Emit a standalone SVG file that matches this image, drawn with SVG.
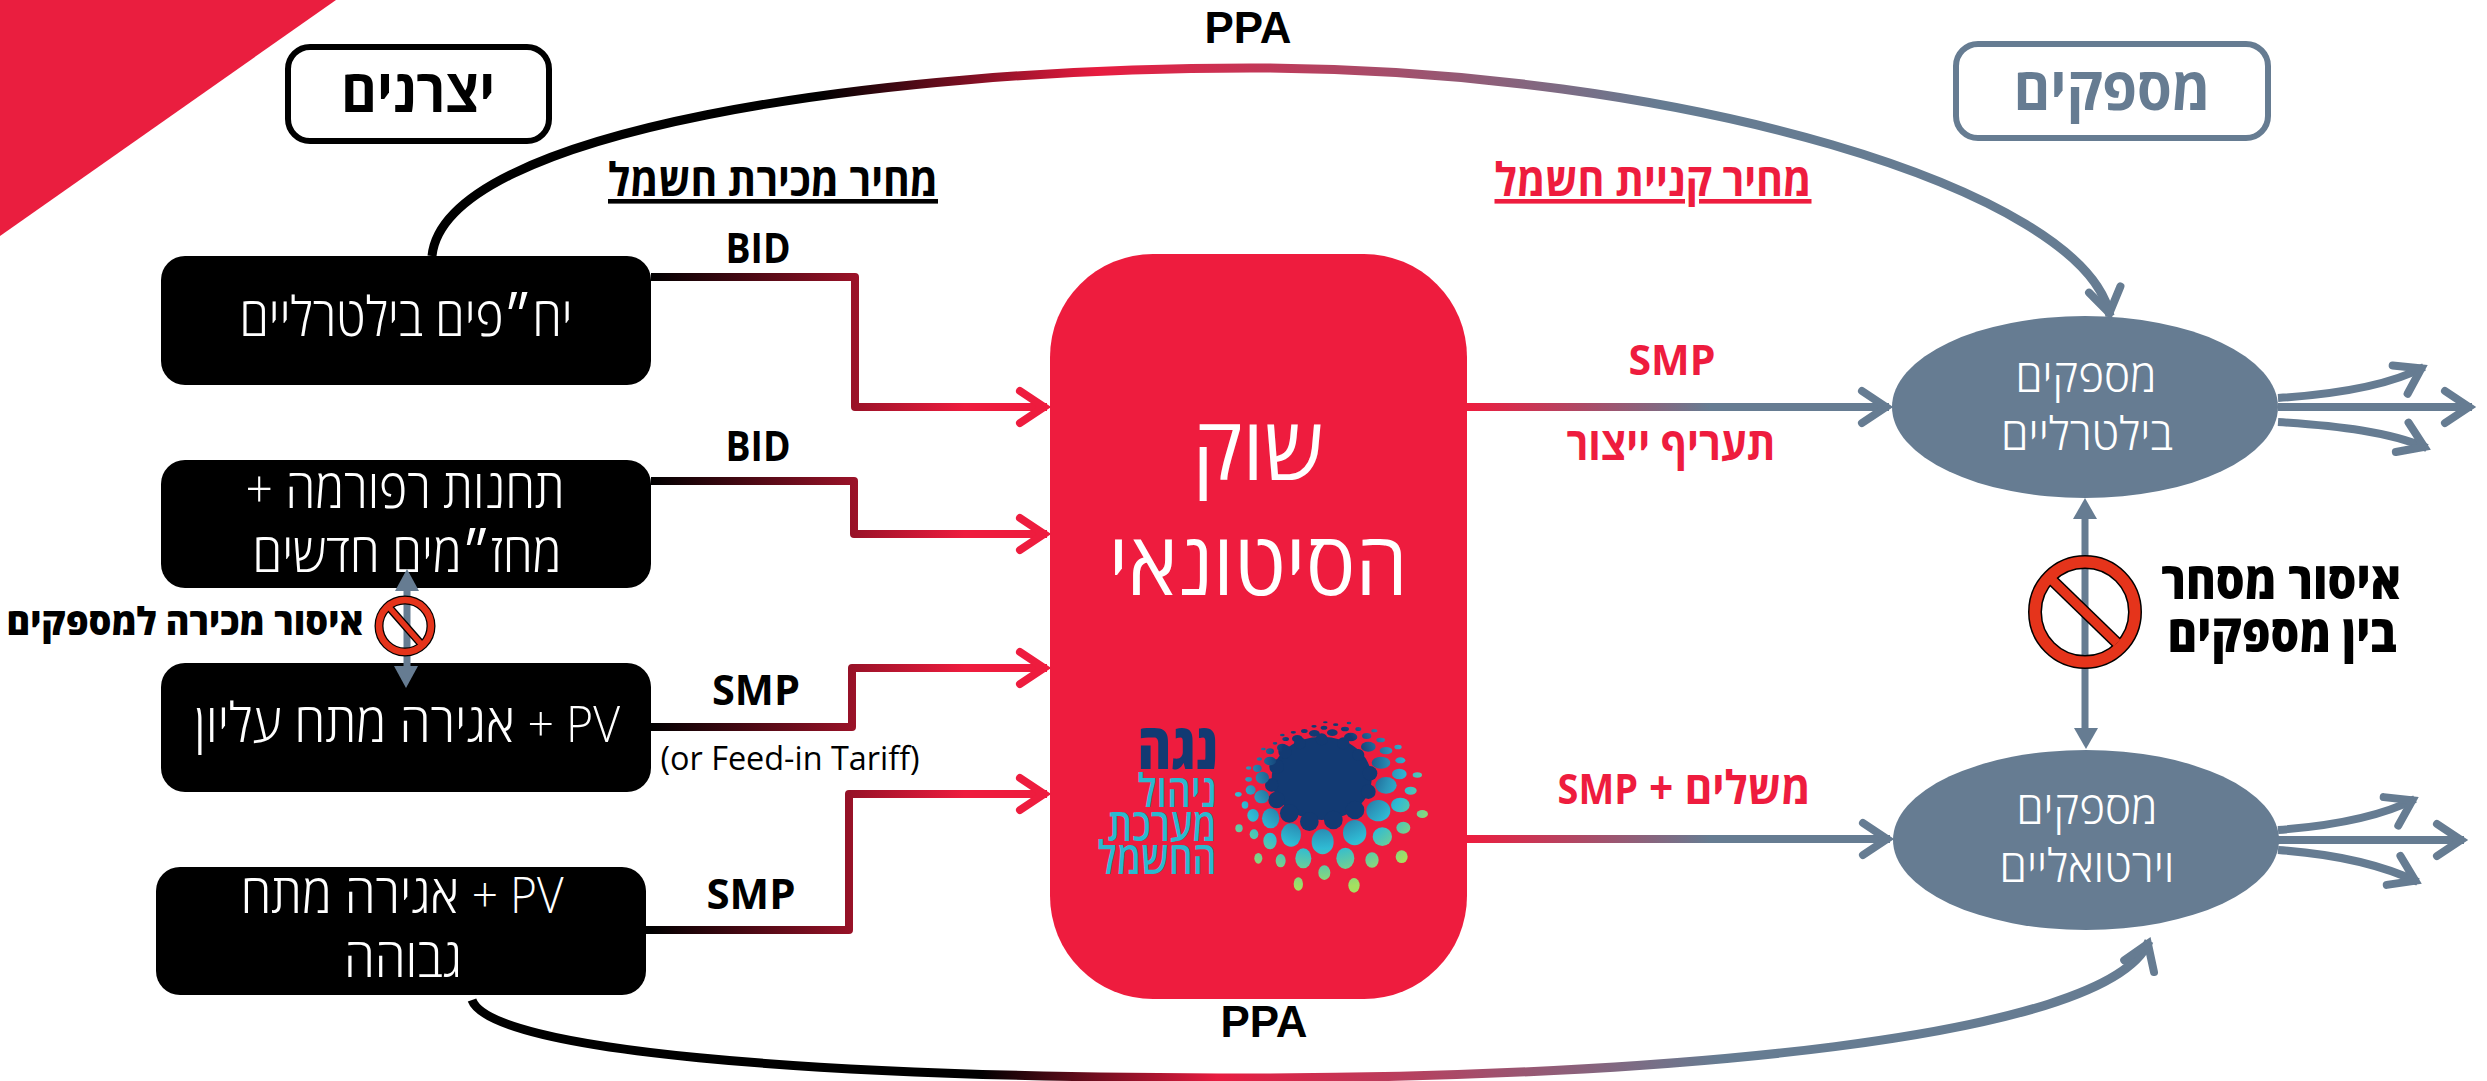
<svg xmlns="http://www.w3.org/2000/svg" width="2487" height="1081" viewBox="0 0 2487 1081">
<style>
text{font-family:"Open Sans","Liberation Sans",sans-serif;text-anchor:middle;direction:rtl}
.w{fill:#fff;font-weight:300;font-size:54px}
.e{font-size:46px}
.b{fill:#000;font-weight:700;font-size:41px}
.r{fill:#ee1c3e;font-weight:700;font-size:46px}
.u{font-size:46px;text-decoration:underline}
.en{font-size:50px}
.ppa{font-family:"Liberation Sans",Arial,sans-serif;font-size:45px;direction:ltr}
.box{fill:#000}
.sup{fill:#667c92}
.cn{fill:none;stroke-width:8;stroke-linejoin:round}
.cv{fill:none;stroke-width:9}
.sl{stroke:#667c92}
.tri{fill:#667c92}
</style>
<defs>
<linearGradient id="gProd" gradientUnits="userSpaceOnUse" x1="651" y1="0" x2="965" y2="0"><stop offset="0" stop-color="#000"/><stop offset="1" stop-color="#ee1c3e"/></linearGradient>
<linearGradient id="gMkt" gradientUnits="userSpaceOnUse" x1="1467" y1="0" x2="1710" y2="0"><stop offset="0" stop-color="#ee1c3e"/><stop offset="1" stop-color="#667c92"/></linearGradient>
<linearGradient id="gTop" gradientUnits="userSpaceOnUse" x1="820" y1="0" x2="1660" y2="0"><stop offset="0" stop-color="#000"/><stop offset=".33" stop-color="#e81c40"/><stop offset="1" stop-color="#667c92"/></linearGradient>
<linearGradient id="gBot" gradientUnits="userSpaceOnUse" x1="980" y1="0" x2="1720" y2="0"><stop offset="0" stop-color="#000"/><stop offset=".32" stop-color="#e81c40"/><stop offset="1" stop-color="#667c92"/></linearGradient>
<radialGradient id="gDots" gradientUnits="userSpaceOnUse" cx="810" cy="240" r="390"><stop offset=".3" stop-color="#123a73"/><stop offset=".55" stop-color="#2b93b8"/><stop offset=".68" stop-color="#2fbbd4"/><stop offset="1" stop-color="#a5e060"/></radialGradient>
<marker id="aR" markerUnits="userSpaceOnUse" markerWidth="50" markerHeight="50" viewBox="-40 -25 50 50" refX="0" refY="0" orient="auto"><path d="M-27,-16 L-3,0 L-27,16" fill="none" stroke="#ee1c3e" stroke-width="8" stroke-linecap="round"/></marker>
<marker id="aS" markerUnits="userSpaceOnUse" markerWidth="50" markerHeight="50" viewBox="-40 -25 50 50" refX="0" refY="0" orient="auto"><path d="M-27,-16 L-3,0 L-27,16" fill="none" stroke="#667c92" stroke-width="8" stroke-linecap="round"/></marker>
</defs>

<polygon points="0,0 336,0 0,236" fill="#ea1e3f"/>

<g id="producers-label">
<rect x="288" y="47" width="261" height="94" rx="22" fill="#fff" stroke="#000" stroke-width="6"/>
<text x="418" y="112" class="b" style="font-size:60px" textLength="154" lengthAdjust="spacingAndGlyphs">יצרנים</text>
</g>
<g id="suppliers-label">
<rect x="1956" y="44" width="312" height="94" rx="22" fill="#fff" stroke="#667c92" stroke-width="6"/>
<text x="2112" y="110" class="b" style="font-size:60px;fill:#667c92" textLength="197" lengthAdjust="spacingAndGlyphs">מספקים</text>
</g>

<g id="node-bilateral">
<rect class="box" x="161" y="256" width="490" height="129" rx="24"/>
<text x="406" y="336" class="w" textLength="333" lengthAdjust="spacingAndGlyphs">יח״פים בילטרליים</text>
</g>
<g id="node-reform">
<rect class="box" x="161" y="460" width="490" height="128" rx="24"/>
<text x="405" y="508" class="w" textLength="319" lengthAdjust="spacingAndGlyphs">תחנות רפורמה +</text>
<text x="407" y="572" class="w" textLength="309" lengthAdjust="spacingAndGlyphs">מחז״מים חדשים</text>
</g>
<g id="node-pv-eht">
<rect class="box" x="161" y="663" width="490" height="129" rx="24"/>
<text x="407" y="742" class="w" textLength="426" lengthAdjust="spacingAndGlyphs"><tspan class="en">PV +</tspan> אגירה מתח עליון</text>
</g>
<g id="node-pv-hv">
<rect class="box" x="156" y="867" width="490" height="128" rx="24"/>
<text x="402" y="913" class="w" textLength="323" lengthAdjust="spacingAndGlyphs"><tspan class="en">PV +</tspan> אגירה מתח</text>
<text x="403" y="977" class="w" textLength="118" lengthAdjust="spacingAndGlyphs">גבוהה</text>
</g>

<g id="node-market">
<rect x="1050" y="254" width="417" height="745" rx="103" fill="#ee1c3e"/>
<text x="1258" y="480" class="w" style="font-size:88px;font-weight:400" textLength="131" lengthAdjust="spacingAndGlyphs">שוק</text>
<text x="1258" y="595" class="w" style="font-size:88px;font-weight:400" textLength="299" lengthAdjust="spacingAndGlyphs">הסיטונאי</text>
<g id="logo" transform="translate(1050 680) scale(.33333)">
<g fill="#123a73">
<ellipse cx="815" cy="295" rx="150" ry="125"/>
<circle cx="960" cy="280" r="22"/><circle cx="955" cy="335" r="22"/><circle cx="915" cy="390" r="28"/><circle cx="850" cy="420" r="28"/><circle cx="778" cy="425" r="28"/><circle cx="718" cy="400" r="28"/><circle cx="680" cy="360" r="25"/><circle cx="665" cy="315" r="20"/><circle cx="680" cy="260" r="22"/><circle cx="705" cy="215" r="20"/><circle cx="750" cy="190" r="18"/><circle cx="815" cy="178" r="18"/><circle cx="880" cy="190" r="18"/><circle cx="925" cy="225" r="18"/>
</g>
<g fill="url(#gDots)">
<ellipse cx="985" cy="392" rx="36" ry="32"/><ellipse cx="914" cy="458" rx="35" ry="38"/><ellipse cx="818" cy="485" rx="33" ry="38"/><ellipse cx="723" cy="465" rx="30" ry="35"/><ellipse cx="662" cy="415" rx="26" ry="30"/><ellipse cx="635" cy="350" rx="22" ry="20"/><ellipse cx="637" cy="293" rx="20" ry="18"/><ellipse cx="660" cy="243" rx="18" ry="13"/><ellipse cx="697" cy="203" rx="16" ry="12"/><ellipse cx="742" cy="176" rx="16" ry="11"/><ellipse cx="793" cy="160" rx="16" ry="10"/><ellipse cx="847" cy="158" rx="16" ry="10"/><ellipse cx="902" cy="171" rx="20" ry="13"/><ellipse cx="950" cy="168" rx="14" ry="9"/><ellipse cx="955" cy="200" rx="22" ry="15"/><ellipse cx="993" cy="248" rx="28" ry="18"/><ellipse cx="1008" cy="316" rx="32" ry="25"/><ellipse cx="1051" cy="375" rx="28" ry="22"/><ellipse cx="997" cy="470" rx="29" ry="28"/><ellipse cx="886" cy="535" rx="27" ry="32"/><ellipse cx="760" cy="535" rx="24" ry="30"/><ellipse cx="660" cy="483" rx="20" ry="25"/><ellipse cx="609" cy="406" rx="17" ry="19"/><ellipse cx="602" cy="330" rx="15" ry="14"/><ellipse cx="622" cy="265" rx="13" ry="11"/><ellipse cx="1060" cy="443" rx="21" ry="18"/><ellipse cx="1082" cy="332" rx="18" ry="12"/><ellipse cx="1048" cy="282" rx="22" ry="16"/><ellipse cx="1051" cy="241" rx="15" ry="9"/><ellipse cx="1008" cy="212" rx="19" ry="11"/><ellipse cx="992" cy="180" rx="13" ry="7"/><ellipse cx="966" cy="540" rx="20" ry="23"/><ellipse cx="823" cy="578" rx="18" ry="22"/><ellipse cx="692" cy="542" rx="15" ry="20"/><ellipse cx="612" cy="463" rx="13" ry="15"/><ellipse cx="625" cy="535" rx="12" ry="16"/><ellipse cx="1055" cy="530" rx="18" ry="19"/><ellipse cx="912" cy="616" rx="17" ry="22"/><ellipse cx="745" cy="612" rx="14" ry="20"/><ellipse cx="1117" cy="402" rx="17" ry="12"/><ellipse cx="1102" cy="285" rx="14" ry="8"/><ellipse cx="1044" cy="201" rx="11" ry="7"/><ellipse cx="973" cy="152" rx="9" ry="5"/><ellipse cx="925" cy="147" rx="9" ry="6"/><ellipse cx="885" cy="147" rx="12" ry="7"/><ellipse cx="857" cy="134" rx="8" ry="4"/><ellipse cx="822" cy="143" rx="10" ry="6"/><ellipse cx="792" cy="139" rx="8" ry="4"/><ellipse cx="763" cy="153" rx="10" ry="6"/><ellipse cx="730" cy="157" rx="8" ry="4"/><ellipse cx="707" cy="177" rx="10" ry="6"/><ellipse cx="697" cy="165" rx="7" ry="4"/><ellipse cx="675" cy="190" rx="7" ry="4"/><ellipse cx="660" cy="214" rx="12" ry="9"/><ellipse cx="640" cy="207" rx="7" ry="4"/><ellipse cx="628" cy="237" rx="8" ry="5"/><ellipse cx="596" cy="264" rx="8" ry="5"/><ellipse cx="596" cy="298" rx="10" ry="7"/><ellipse cx="585" cy="375" rx="10" ry="11"/><ellipse cx="565" cy="343" rx="10" ry="7"/><ellipse cx="567" cy="445" rx="11" ry="12"/><ellipse cx="826" cy="127" rx="7" ry="3"/><ellipse cx="897" cy="129" rx="7" ry="4"/>
</g>
</g>
<text x="1178" y="769" style="font-size:64px;font-weight:800;fill:#123a73" textLength="81" lengthAdjust="spacingAndGlyphs">נגה</text>
<g style="font-size:46px;font-weight:600;fill:#2bb9cf">
<text x="1177" y="807" textLength="79" lengthAdjust="spacingAndGlyphs">ניהול</text>
<text x="1162" y="841" textLength="109" lengthAdjust="spacingAndGlyphs">מערכת</text>
<text x="1157" y="874" textLength="119" lengthAdjust="spacingAndGlyphs">החשמל</text>
</g>
</g>

<g id="node-bilateral-suppliers">
<ellipse class="sup" cx="2085" cy="407" rx="193" ry="91"/>
<text x="2086" y="392" class="w e" textLength="141" lengthAdjust="spacingAndGlyphs">מספקים</text>
<text x="2087" y="450" class="w e" textLength="172" lengthAdjust="spacingAndGlyphs">בילטרליים</text>
</g>
<g id="node-virtual-suppliers">
<ellipse class="sup" cx="2086" cy="840" rx="193" ry="90"/>
<text x="2087" y="824" class="w e" textLength="141" lengthAdjust="spacingAndGlyphs">מספקים</text>
<text x="2087" y="882" class="w e" textLength="175" lengthAdjust="spacingAndGlyphs">וירטואליים</text>
</g>

<g id="connectors">
<path class="cn" stroke="url(#gProd)" d="M651,277 H855 V407 H1047" marker-end="url(#aR)"/>
<path class="cn" stroke="url(#gProd)" d="M651,481 H854 V534 H1047" marker-end="url(#aR)"/>
<path class="cn" stroke="url(#gProd)" d="M651,727 H852 V668 H1047" marker-end="url(#aR)"/>
<path class="cn" stroke="url(#gProd)" d="M646,930 H849 V794 H1047" marker-end="url(#aR)"/>
<path class="cv" stroke="url(#gTop)" d="M432,256 C445,130 880,68 1250,68 C1680,68 2085,190 2110,316" marker-end="url(#aS)"/>
<path class="cv" stroke="url(#gBot)" d="M472,1000 C490,1050 800,1078 1250,1078 C1650,1078 2110,1040 2149,941" marker-end="url(#aS)"/>
<path class="cn" stroke="url(#gMkt)" d="M1467,407 H1889" marker-end="url(#aS)"/>
<path class="cn" stroke="url(#gMkt)" d="M1467,839 H1890" marker-end="url(#aS)"/>
<g class="cn sl">
<path d="M2278,398 C2340,394 2390,385 2424,367" marker-end="url(#aS)"/>
<path d="M2278,407 H2472" marker-end="url(#aS)"/>
<path d="M2278,422 C2340,426 2390,432 2427,448" marker-end="url(#aS)"/>
<path d="M2278,830 C2330,826 2380,817 2415,799" marker-end="url(#aS)"/>
<path d="M2278,840 H2464" marker-end="url(#aS)"/>
<path d="M2278,850 C2335,854 2380,864 2418,882" marker-end="url(#aS)"/>
<path d="M2085,515 V732" stroke-width="7"/>
<path d="M407,588 V669" stroke-width="7"/>
</g>
<polygon class="tri" points="2085,498 2097,519 2073,519"/>
<polygon class="tri" points="2086,749 2098,728 2074,728"/>
<polygon class="tri" points="407,569 419,591 395,591"/>
<polygon class="tri" points="406,688 418,666 394,666"/>
</g>

<g id="ban-left" fill="none">
<circle cx="405" cy="626" r="26" stroke="#000" stroke-width="9"/>
<path d="M387,605 L423,646" stroke="#000" stroke-width="8"/>
<circle cx="405" cy="626" r="26" stroke="#e5341b" stroke-width="6.5"/>
<path d="M388,606 L422,645" stroke="#e5341b" stroke-width="5.5"/>
</g>
<g id="ban-right" fill="none">
<circle cx="2085" cy="612" r="50" stroke="#000" stroke-width="14"/>
<path d="M2051,579 L2118,644" stroke="#000" stroke-width="12"/>
<circle cx="2085" cy="612" r="50" stroke="#e5341b" stroke-width="11"/>
<path d="M2052,580 L2117,643" stroke="#e5341b" stroke-width="9"/>
</g>

<g id="labels">
<text x="1248" y="43" class="b ppa" textLength="87" lengthAdjust="spacingAndGlyphs">PPA</text>
<text x="1264" y="1037" class="b ppa" textLength="87" lengthAdjust="spacingAndGlyphs">PPA</text>
<text x="773" y="196" class="b u" textLength="330" lengthAdjust="spacingAndGlyphs">מחיר מכירת חשמל</text>
<text x="1653" y="196" class="r u" textLength="317" lengthAdjust="spacingAndGlyphs">מחיר קניית חשמל</text>
<text x="758" y="263" class="b" textLength="65" lengthAdjust="spacingAndGlyphs">BID</text>
<text x="758" y="461" class="b" textLength="65" lengthAdjust="spacingAndGlyphs">BID</text>
<text x="756" y="705" class="b" textLength="88" lengthAdjust="spacingAndGlyphs">SMP</text>
<text x="751" y="909" class="b" textLength="89" lengthAdjust="spacingAndGlyphs">SMP</text>
<text x="790" y="770" style="font-size:33px;fill:#000;direction:ltr" textLength="259" lengthAdjust="spacingAndGlyphs">(or Feed-in Tariff)</text>
<text x="185" y="635" class="b" style="font-size:38px;font-weight:800" textLength="357" lengthAdjust="spacingAndGlyphs">איסור מכירה למספקים</text>
<text x="1672" y="375" class="r" style="font-size:41px" textLength="87" lengthAdjust="spacingAndGlyphs">SMP</text>
<text x="1671" y="460" class="r" textLength="209" lengthAdjust="spacingAndGlyphs">תעריף ייצור</text>
<text x="1684" y="804" class="r" textLength="253" lengthAdjust="spacingAndGlyphs">משלים + <tspan style="font-size:41px">SMP</tspan></text>
<text x="2281" y="599" class="b" style="font-size:52px;font-weight:800" textLength="240" lengthAdjust="spacingAndGlyphs">איסור מסחר</text>
<text x="2282" y="652" class="b" style="font-size:52px;font-weight:800" textLength="229" lengthAdjust="spacingAndGlyphs">בין מספקים</text>
</g>
</svg>
